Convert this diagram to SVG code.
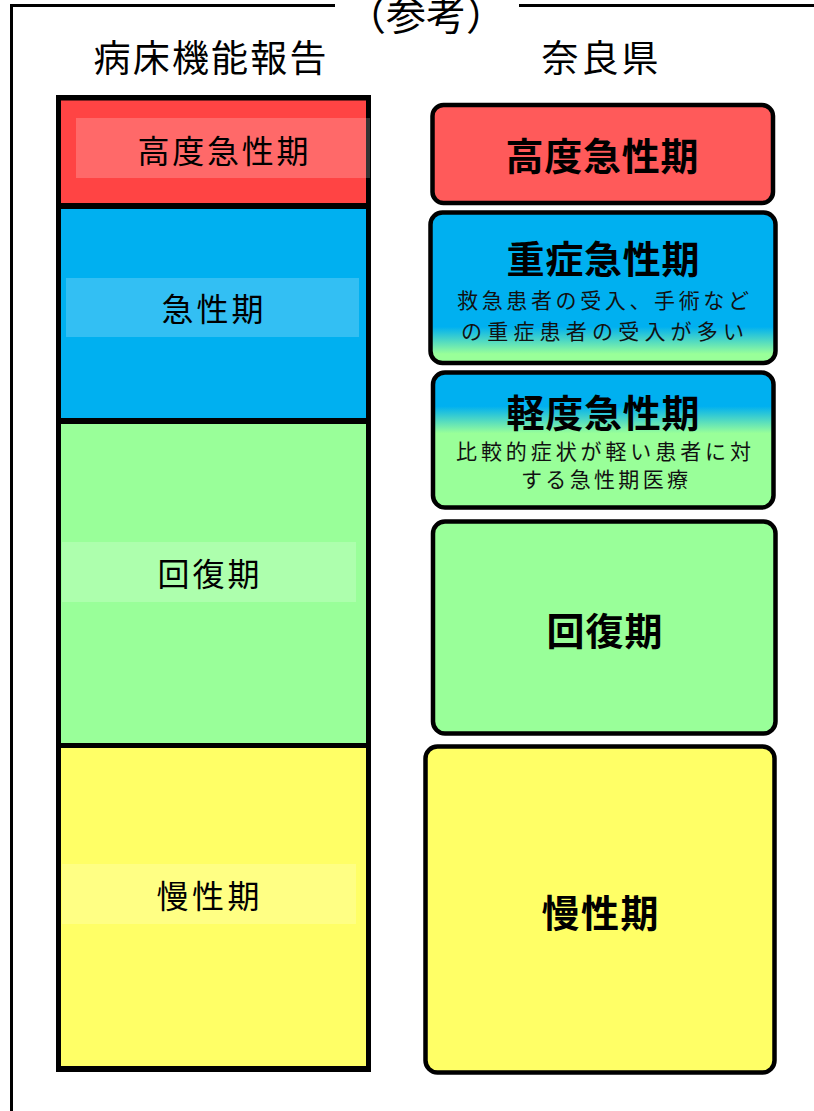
<svg xmlns="http://www.w3.org/2000/svg" width="814" height="1111" viewBox="0 0 814 1111">
<style>
.t{font-family:"Noto Sans CJK JP","Noto Sans CJK SC",sans-serif;fill:#000;text-anchor:middle}
.lab{font-size:32px}
.hd{font-size:37px}
.ttl{font-size:38px;font-weight:700}
.sub{font-size:21px;fill:#111}
.band{fill:#fff;fill-opacity:0.2}
.box{stroke:#000;stroke-width:4.5}
</style>
<defs>
<linearGradient id="g1" x1="0" y1="0" x2="0" y2="1">
<stop offset="0" stop-color="#00B0F0"/>
<stop offset="0.76" stop-color="#00B0F0"/>
<stop offset="0.94" stop-color="#99FF99"/>
<stop offset="1" stop-color="#99FF99"/>
</linearGradient>
<linearGradient id="g2" x1="0" y1="0" x2="0" y2="1">
<stop offset="0" stop-color="#00B0F0"/>
<stop offset="0.25" stop-color="#00B0F0"/>
<stop offset="0.45" stop-color="#99FF99"/>
<stop offset="1" stop-color="#99FF99"/>
</linearGradient>
</defs>
<g id="frame">
<polyline points="335,5.5 11.5,5.5 11.5,1111" fill="none" stroke="#000" stroke-width="3"/>
<line x1="519" y1="5.5" x2="814" y2="5.5" stroke="#000" stroke-width="3"/>
<text class="t" x="426" y="30" font-size="40">（参考）</text>
</g>
<g id="headings">
<text class="t hd" x="210" y="72" textLength="233" lengthAdjust="spacing">病床機能報告</text>
<text class="t hd" x="600" y="72" textLength="117" lengthAdjust="spacing">奈良県</text>
</g>
<g id="left-column">
<rect x="56" y="95" width="315" height="977" fill="#000"/>
<g id="l-high">
<rect x="61" y="100.5" width="305" height="102.5" fill="#FF4444"/>
<rect class="band" x="76" y="118" width="294" height="60"/>
<text class="t lab" x="223" y="162.5" textLength="171" lengthAdjust="spacing">高度急性期</text>
</g>
<g id="l-acute">
<rect x="61" y="209" width="305" height="209" fill="#00B0F0"/>
<rect class="band" x="66" y="278" width="293" height="59"/>
<text class="t lab" x="212.5" y="320.5" textLength="102" lengthAdjust="spacing">急性期</text>
</g>
<g id="l-recovery">
<rect x="61" y="424" width="305" height="319" fill="#99FF99"/>
<rect class="band" x="62" y="542" width="294" height="60"/>
<text class="t lab" x="208.5" y="586" textLength="102" lengthAdjust="spacing">回復期</text>
</g>
<g id="l-chronic">
<rect x="61" y="748" width="305" height="318" fill="#FFFF66"/>
<rect class="band" x="62" y="864" width="294" height="60"/>
<text class="t lab" x="208" y="907.5" textLength="103" lengthAdjust="spacing">慢性期</text>
</g>
</g>
<g id="right-column">
<g id="r-high">
<rect class="box" x="432.5" y="105" width="340.5" height="98" rx="11" fill="#FF5A5A"/>
<text class="t ttl" x="602" y="169.5" textLength="193" lengthAdjust="spacing">高度急性期</text>
</g>
<g id="r-severe">
<rect class="box" x="430.5" y="212.5" width="345" height="150.5" rx="12" fill="url(#g1)"/>
<text class="t ttl" x="603" y="272.5" textLength="193" lengthAdjust="spacing">重症急性期</text>
<text class="t sub" x="603" y="307.5" textLength="292" lengthAdjust="spacing">救急患者の受入、手術など</text>
<text class="t sub" x="602.5" y="339" textLength="283" lengthAdjust="spacing">の重症患者の受入が多い</text>
</g>
<g id="r-mild">
<rect class="box" x="433" y="372.5" width="340.5" height="135" rx="12" fill="url(#g2)"/>
<text class="t ttl" x="603" y="426.5" textLength="193" lengthAdjust="spacing">軽度急性期</text>
<text class="t sub" x="603.5" y="458.5" textLength="295" lengthAdjust="spacing">比較的症状が軽い患者に対</text>
<text class="t sub" x="604.5" y="487" textLength="167" lengthAdjust="spacing">する急性期医療</text>
</g>
<g id="r-recovery">
<rect class="box" x="433" y="521.5" width="342.5" height="212" rx="12" fill="#99FF99"/>
<text class="t ttl" x="604.5" y="644.5" textLength="116" lengthAdjust="spacing">回復期</text>
</g>
<g id="r-chronic">
<rect class="box" x="425.5" y="746.5" width="349" height="326" rx="12" fill="#FFFF66"/>
<text class="t ttl" x="600" y="926.5" textLength="117" lengthAdjust="spacing">慢性期</text>
</g>
</g>
</svg>
